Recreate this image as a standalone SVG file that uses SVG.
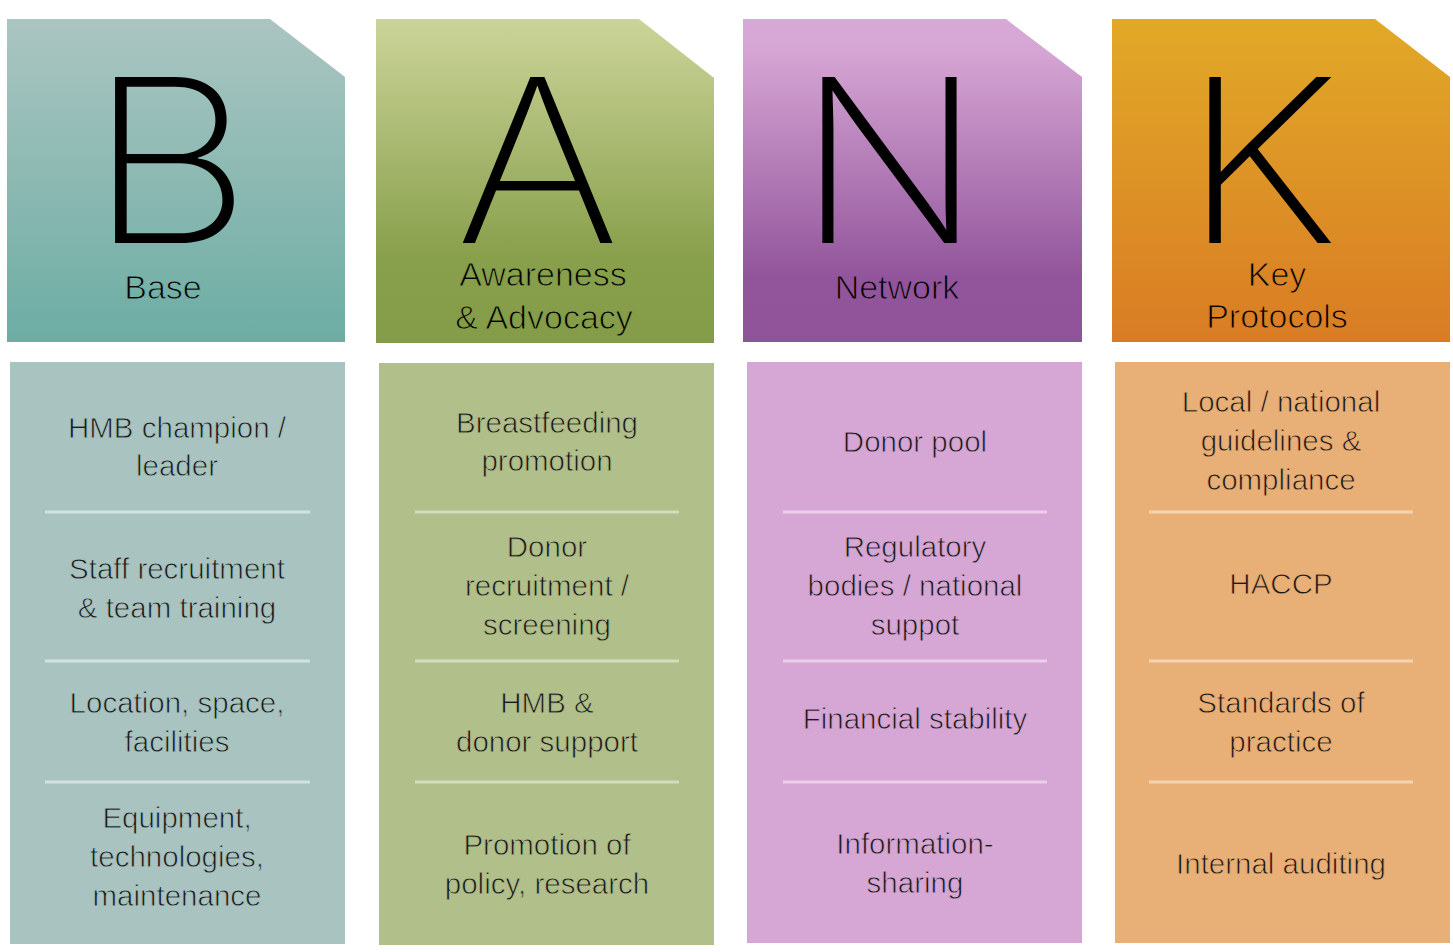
<svg xmlns="http://www.w3.org/2000/svg" width="1453" height="952" viewBox="0 0 1453 952">
<defs>
<linearGradient id="gB" gradientUnits="userSpaceOnUse" x1="0" y1="19" x2="0" y2="342">
<stop offset="0" stop-color="#abc5c1"/><stop offset="1" stop-color="#6cada3"/>
</linearGradient>
<linearGradient id="gA" gradientUnits="userSpaceOnUse" x1="0" y1="19" x2="0" y2="343">
<stop offset="0" stop-color="#cbd499"/><stop offset="0.74" stop-color="#889f4b"/><stop offset="1" stop-color="#849c47"/>
</linearGradient>
<linearGradient id="gN" gradientUnits="userSpaceOnUse" x1="0" y1="19" x2="0" y2="342">
<stop offset="0" stop-color="#d8a9d7"/><stop offset="0.1" stop-color="#d5a5d3"/><stop offset="0.8" stop-color="#92559b"/><stop offset="1" stop-color="#8f5399"/>
</linearGradient>
<linearGradient id="gK" gradientUnits="userSpaceOnUse" x1="0" y1="19" x2="0" y2="342">
<stop offset="0" stop-color="#e1a927"/><stop offset="1" stop-color="#d97c24"/>
</linearGradient>
</defs>
<style>
text { font-family: "Liberation Sans", Arial, Helvetica, sans-serif; text-anchor: middle; }
.big { font-family: Inter, "Liberation Sans", sans-serif; font-size: 228px; font-weight: 240; fill: #000; }
.lab { font-size: 34px; fill: #000; stroke-width: 1; }
.item { font-size: 29.5px; fill: #1b1b1b; stroke-width: 0.8; }
.sep { stroke-width: 3; }
</style>
<rect width="1453" height="952" fill="#ffffff"/>

<g id="head-B">
<polygon points="7,19 270,19 345,77 345,342 7,342" fill="url(#gB)"/>
<text class="big" x="0" y="0" transform="translate(170,243) scale(1.11,1)">B</text>
<text class="lab" x="163" y="299" stroke="url(#gB)">Base</text>
</g>
<g id="head-A">
<polygon points="376,19 639,19 714,78 714,343 376,343" fill="url(#gA)"/>
<text class="big" x="0" y="0" transform="translate(537.5,243) scale(1.1,1)">A</text>
<text class="lab" x="543" y="286" stroke="url(#gA)">Awareness</text>
<text class="lab" x="544" y="329" stroke="url(#gA)">&amp; Advocacy</text>
</g>
<g id="head-N">
<polygon points="743,19 1006,19 1082,77 1082,342 743,342" fill="url(#gN)"/>
<text class="big" x="0" y="0" transform="translate(889.5,243) scale(1.06,1)">N</text>
<text class="lab" x="897" y="299" stroke="url(#gN)">Network</text>
</g>
<g id="head-K">
<polygon points="1112,19 1375,19 1450,77 1450,342 1112,342" fill="url(#gK)"/>
<text class="big" x="0" y="0" transform="translate(1261,243) scale(1.1,1)">K</text>
<text class="lab" x="1277" y="286" stroke="url(#gK)">Key</text>
<text class="lab" x="1277" y="328" stroke="url(#gK)">Protocols</text>
</g>

<g id="col-B">
<rect x="10" y="362" width="335" height="582" fill="#a9c4c0"/>
<g class="sep" stroke="#d2e2df">
<line x1="45" y1="512" x2="310" y2="512"/>
<line x1="45" y1="661" x2="310" y2="661"/>
<line x1="45" y1="782" x2="310" y2="782"/>
</g>
<g stroke="#a9c4c0">
<text class="item" x="177" y="438">HMB champion /</text>
<text class="item" x="177" y="476">leader</text>
<text class="item" x="177" y="579">Staff recruitment</text>
<text class="item" x="177" y="618">&amp; team training</text>
<text class="item" x="177" y="713">Location, space,</text>
<text class="item" x="177" y="752">facilities</text>
<text class="item" x="177" y="828">Equipment,</text>
<text class="item" x="177" y="867">technologies,</text>
<text class="item" x="177" y="906">maintenance</text>
</g>
</g>

<g id="col-A">
<rect x="379" y="363" width="335" height="582" fill="#b1bf8a"/>
<g class="sep" stroke="#d4dcbb">
<line x1="415" y1="512" x2="679" y2="512"/>
<line x1="415" y1="661" x2="679" y2="661"/>
<line x1="415" y1="782" x2="679" y2="782"/>
</g>
<g stroke="#b1bf8a">
<text class="item" x="547" y="433">Breastfeeding</text>
<text class="item" x="547" y="471">promotion</text>
<text class="item" x="547" y="557">Donor</text>
<text class="item" x="547" y="596">recruitment /</text>
<text class="item" x="547" y="635">screening</text>
<text class="item" x="547" y="713">HMB &amp;</text>
<text class="item" x="547" y="752">donor support</text>
<text class="item" x="547" y="855">Promotion of</text>
<text class="item" x="547" y="894">policy, research</text>
</g>
</g>

<g id="col-N">
<rect x="747" y="362" width="335" height="581" fill="#d6a6d4"/>
<g class="sep" stroke="#eccdea">
<line x1="783" y1="512" x2="1047" y2="512"/>
<line x1="783" y1="661" x2="1047" y2="661"/>
<line x1="783" y1="782" x2="1047" y2="782"/>
</g>
<g stroke="#d6a6d4">
<text class="item" x="915" y="452">Donor pool</text>
<text class="item" x="915" y="557">Regulatory</text>
<text class="item" x="915" y="596">bodies / national</text>
<text class="item" x="915" y="635">suppot</text>
<text class="item" x="915" y="729">Financial stability</text>
<text class="item" x="915" y="854">Information-</text>
<text class="item" x="915" y="893">sharing</text>
</g>
</g>

<g id="col-K">
<rect x="1115" y="362" width="335" height="581" fill="#e8b076"/>
<g class="sep" stroke="#f3d3b0">
<line x1="1149" y1="512" x2="1413" y2="512"/>
<line x1="1149" y1="661" x2="1413" y2="661"/>
<line x1="1149" y1="782" x2="1413" y2="782"/>
</g>
<g stroke="#e8b076">
<text class="item" x="1281" y="412">Local / national</text>
<text class="item" x="1281" y="451">guidelines &amp;</text>
<text class="item" x="1281" y="490">compliance</text>
<text class="item" x="1281" y="594">HACCP</text>
<text class="item" x="1281" y="713">Standards of</text>
<text class="item" x="1281" y="752">practice</text>
<text class="item" x="1281" y="874">Internal auditing</text>
</g>
</g>
</svg>
